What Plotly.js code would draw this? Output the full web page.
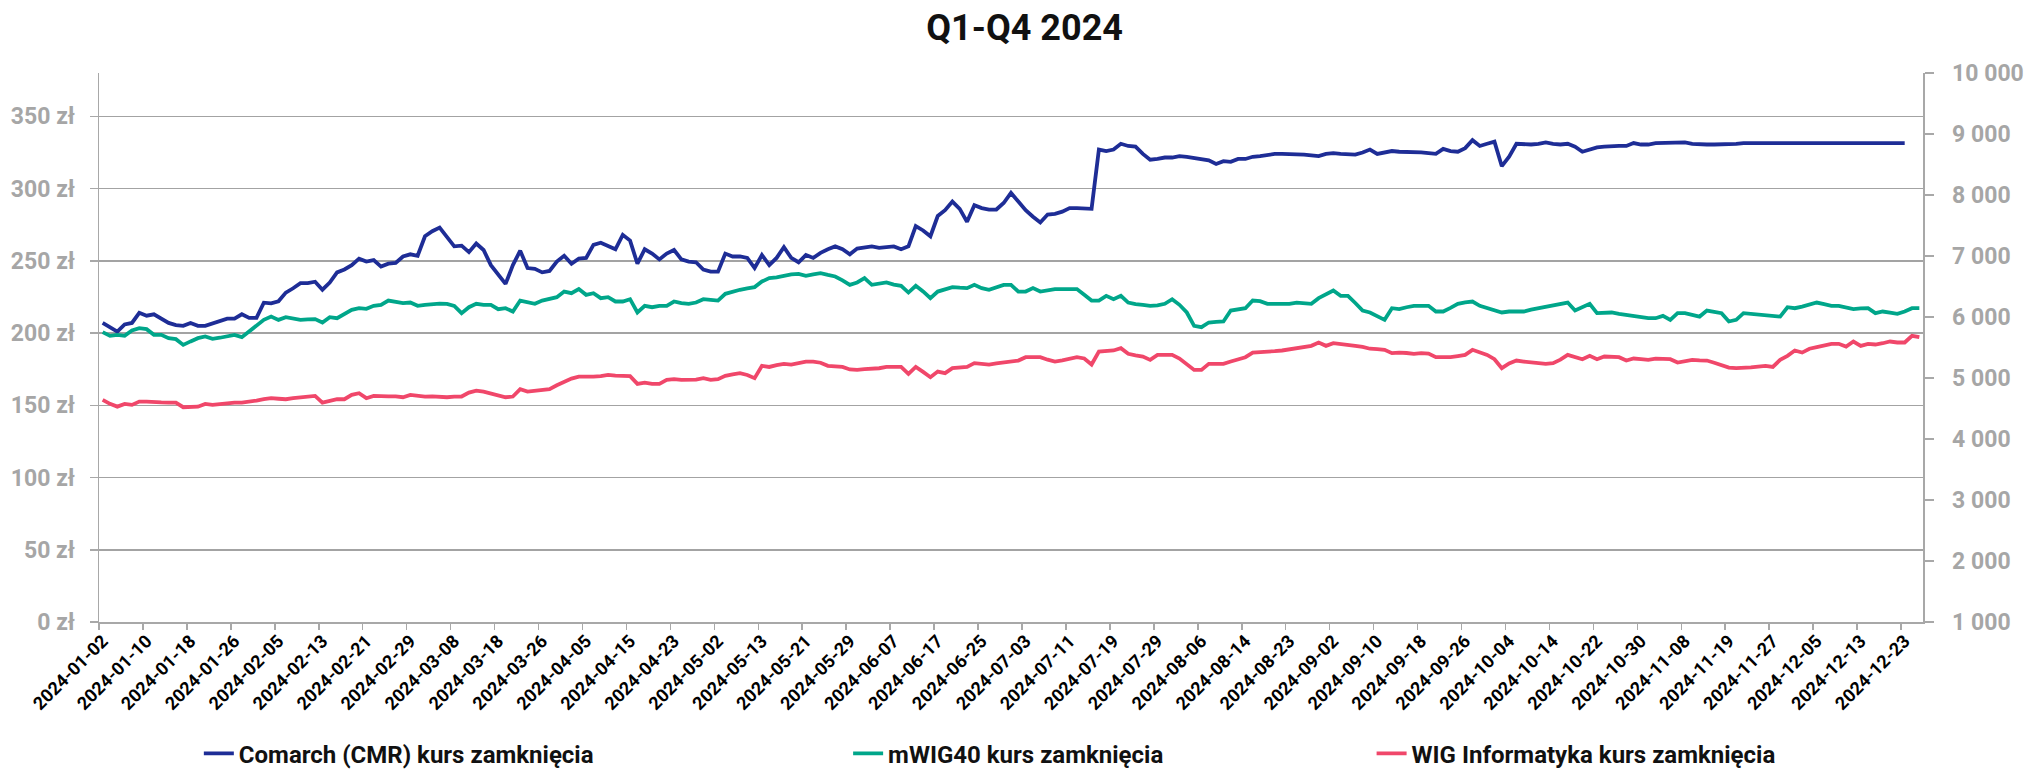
<!DOCTYPE html>
<html>
<head>
<meta charset="utf-8">
<script src="https://cdn.plot.ly/plotly-3.0.1.min.js"></script>
<style>html,body{margin:0;padding:0;background:#fff;}#chart{width:2029px;height:770px;}</style>
</head>
<body>
<div id="chart"></div>
<script>
const dates = [
"2024-01-02","2024-01-03","2024-01-04","2024-01-05","2024-01-08","2024-01-09","2024-01-10","2024-01-11","2024-01-12","2024-01-15","2024-01-16","2024-01-17","2024-01-18","2024-01-19","2024-01-22","2024-01-23","2024-01-24","2024-01-25","2024-01-26","2024-01-29","2024-01-30","2024-01-31",
"2024-02-01","2024-02-02","2024-02-05","2024-02-06","2024-02-07","2024-02-08","2024-02-09","2024-02-12","2024-02-13","2024-02-14","2024-02-15","2024-02-16","2024-02-19","2024-02-20","2024-02-21","2024-02-22","2024-02-23","2024-02-26","2024-02-27","2024-02-28","2024-02-29",
"2024-03-01","2024-03-04","2024-03-05","2024-03-06","2024-03-07","2024-03-08","2024-03-11","2024-03-12","2024-03-13","2024-03-14","2024-03-15","2024-03-18","2024-03-19","2024-03-20","2024-03-21","2024-03-22","2024-03-25","2024-03-26","2024-03-27","2024-03-28",
"2024-04-02","2024-04-03","2024-04-04","2024-04-05","2024-04-08","2024-04-09","2024-04-10","2024-04-11","2024-04-12","2024-04-15","2024-04-16","2024-04-17","2024-04-18","2024-04-19","2024-04-22","2024-04-23","2024-04-24","2024-04-25","2024-04-26","2024-04-29","2024-04-30",
"2024-05-02","2024-05-06","2024-05-07","2024-05-08","2024-05-09","2024-05-10","2024-05-13","2024-05-14","2024-05-15","2024-05-16","2024-05-17","2024-05-20","2024-05-21","2024-05-22","2024-05-23","2024-05-24","2024-05-27","2024-05-28","2024-05-29","2024-05-31",
"2024-06-03","2024-06-04","2024-06-05","2024-06-06","2024-06-07","2024-06-10","2024-06-11","2024-06-12","2024-06-13","2024-06-14","2024-06-17","2024-06-18","2024-06-19","2024-06-20","2024-06-21","2024-06-24","2024-06-25","2024-06-26","2024-06-27","2024-06-28",
"2024-07-01","2024-07-02","2024-07-03","2024-07-04","2024-07-05","2024-07-08","2024-07-09","2024-07-10","2024-07-11","2024-07-12","2024-07-15","2024-07-16","2024-07-17","2024-07-18","2024-07-19","2024-07-22","2024-07-23","2024-07-24","2024-07-25","2024-07-26","2024-07-29","2024-07-30","2024-07-31",
"2024-08-01","2024-08-02","2024-08-05","2024-08-06","2024-08-07","2024-08-08","2024-08-09","2024-08-12","2024-08-13","2024-08-14","2024-08-16","2024-08-19","2024-08-20","2024-08-21","2024-08-22","2024-08-23","2024-08-26","2024-08-27","2024-08-28","2024-08-29","2024-08-30",
"2024-09-02","2024-09-03","2024-09-04","2024-09-05","2024-09-06","2024-09-09","2024-09-10","2024-09-11","2024-09-12","2024-09-13","2024-09-16","2024-09-17","2024-09-18","2024-09-19","2024-09-20","2024-09-23","2024-09-24","2024-09-25","2024-09-26","2024-09-27","2024-09-30",
"2024-10-01","2024-10-02","2024-10-03","2024-10-04","2024-10-07","2024-10-08","2024-10-09","2024-10-10","2024-10-11","2024-10-14","2024-10-15","2024-10-16","2024-10-17","2024-10-18","2024-10-21","2024-10-22","2024-10-23","2024-10-24","2024-10-25","2024-10-28","2024-10-29","2024-10-30","2024-10-31",
"2024-11-04","2024-11-05","2024-11-06","2024-11-07","2024-11-08","2024-11-12","2024-11-13","2024-11-14","2024-11-15","2024-11-18","2024-11-19","2024-11-20","2024-11-21","2024-11-22","2024-11-25","2024-11-26","2024-11-27","2024-11-28","2024-11-29",
"2024-12-02","2024-12-03","2024-12-04","2024-12-05","2024-12-06","2024-12-09","2024-12-10","2024-12-11","2024-12-12","2024-12-13","2024-12-16","2024-12-17","2024-12-18","2024-12-19","2024-12-20","2024-12-23","2024-12-27","2024-12-30"
];

// Comarch (CMR) closing price, zł (left axis)
const comarch = [
207,204,201,206,207,214,212,213,210,207,205.5,205,207,205,205,206.5,208.5,210,210,213,210.5,210.5,
221,220.5,222,228,231,234.5,234.5,235.5,230,235,242,244,247,251.5,249.5,250.5,246,248,248.5,253,254.5,
253.5,267,270.5,273,266,260,260.5,256,262,257.5,247,240,234,247,257,245,244.5,242,243,
249.5,253.5,248,251.5,252,261,262.5,260,258,268,264,248,258,255,251,255,257.5,251,249.5,249,
244,242.5,242.5,255,253,253,252,245,254,247,252,259.5,252,249,254,252,255.5,258,260,258,
254.5,258.5,259,260,259,259.5,260,258,260,274,271,267,281,285,291,286,277,288.5,286.5,285.5,
285.5,290,297,291,285,280.5,276.5,282,282.5,284,286.5,286.5,286.5,286,327,326,327,331,329.5,329,324,320,320.5,
321.5,321.5,322.5,322,321,320,319.5,317,319,318.5,320.5,320.5,322,322.5,323.5,324,324,324,324,323.5,323,
322.5,324,324.5,324,323.5,323.5,325,327,324,325,326,325.5,325.5,325,325,324.5,324,327.5,326,325.5,328,
333.5,329.5,331,332.5,315.5,322,331,330.5,330.5,331,332,331,330.5,331,329,325.5,327,328.5,329,329.5,329.5,329.5,331.5,
330.5,330.5,331.5,331.5,331.5,332,332,331,330.5,330.5,330.5,330.5,330.5,331,331.5,331.5,331.5,331.5,331.5,
331.5,331.5,331.5,331.5,331.5,331.5,331.5,331.5,331.5,331.5,331.5,331.5,331.5,331.5,331.5,331.5,331.5,331.5
];

// mWIG40 closing value (right axis)
const mwig40 = [
5752,5691,5707,5691,5778,5817,5801,5707,5707,5653,5637,5543,5600,5653,5680,5642,5660,5680,5707,5670,5761,5860,
5953,6007,5953,5997,5970,5953,5960,5965,5910,5997,5980,6050,6117,6144,6135,6183,6199,6270,6250,6227,6237,
6183,6200,6216,6220,6216,6183,6063,6160,6216,6199,6199,6128,6144,6090,6270,6240,6216,6270,6290,
6325,6417,6390,6457,6363,6390,6309,6325,6254,6254,6292,6074,6183,6160,6183,6183,6254,6227,6216,6237,6292,
6280,6270,6380,6420,6446,6470,6490,6582,6637,6650,6675,6700,6708,6675,6700,6719,6690,6664,6600,6527,
6566,6637,6527,6550,6566,6530,6511,6401,6511,6420,6309,6417,6450,6490,6480,6473,6527,6473,6446,6480,
6527,6527,6417,6417,6473,6417,6440,6457,6457,6450,6457,6363,6270,6270,6347,6292,6347,6237,6210,6199,6183,6190,6216,
6292,6200,6074,5855,5834,5910,5920,5926,6106,6130,6144,6270,6260,6216,6216,6216,6216,6237,6230,6216,6309,
6380,6434,6347,6347,6230,6106,6074,6010,5953,6144,6128,6160,6183,6183,6183,6090,6090,6150,6216,6240,6254,
6183,6150,6117,6074,6090,6090,6090,6120,6144,6170,6183,6220,6237,6106,6160,6216,6063,6070,6074,6050,6035,6019,5990,
5980,5980,6019,5953,6063,6063,6035,6007,6106,6080,6063,5926,5953,6063,6050,6035,6030,6019,6007,
6160,6144,6170,6199,6237,6210,6183,6183,6150,6128,6140,6144,6063,6090,6070,6052,6090,6144,6144
];

// WIG Informatyka closing value (right axis)
const wigInfo = [
4641,4576,4531,4576,4559,4613,4613,4613,4600,4597,4597,4521,4521,4530,4576,4559,4570,4586,4597,4597,4610,4630,
4652,4669,4660,4652,4669,4680,4696,4707,4597,4630,4652,4652,4723,4751,4669,4707,4696,4700,4700,4685,4723,
4710,4696,4700,4690,4685,4696,4696,4761,4794,4778,4750,4723,4685,4696,4816,4778,4790,4805,4816,
4880,4942,4990,5023,5018,5023,5030,5051,5040,5030,5030,4904,4925,4904,4904,4969,4981,4969,4969,4975,4997,
4969,4980,5035,5060,5079,5050,4997,5199,5181,5210,5232,5221,5240,5270,5270,5250,5199,5190,5181,5140,
5133,5145,5145,5160,5181,5181,5181,5067,5181,5100,5013,5105,5079,5161,5170,5181,5243,5230,5221,5240,
5254,5270,5286,5341,5341,5341,5300,5270,5290,5308,5341,5320,5221,5434,5445,5451,5489,5396,5370,5352,5297,5379,5379,
5379,5319,5232,5133,5133,5232,5232,5232,5270,5310,5341,5417,5420,5434,5440,5451,5470,5489,5505,5527,5582,
5527,5571,5560,5549,5527,5510,5480,5473,5462,5407,5417,5410,5396,5407,5400,5341,5341,5341,5360,5379,5462,
5420,5379,5308,5161,5240,5286,5270,5254,5240,5232,5243,5300,5379,5340,5308,5363,5308,5352,5345,5341,5286,5319,5310,
5297,5319,5315,5308,5254,5280,5297,5290,5286,5250,5215,5170,5161,5161,5175,5188,5199,5181,5297,
5363,5451,5417,5480,5505,5530,5560,5560,5516,5598,5527,5560,5549,5570,5598,5582,5582,5691,5669
];

const seriesNames = ["Comarch (CMR) kurs zamknięcia", "mWIG40 kurs zamknięcia", "WIG Informatyka kurs zamknięcia"];
const seriesColors = ["#1e2d96", "#00a68a", "#f0476a"];
const titleText = "Q1-Q4 2024";

const FONT = "Roboto, 'Open Sans', sans-serif";
const GRID = "#a3a3a3";
const AXIS = "#a8a8a8";
const LABEL = "#a6a6a6";

const traces = [
  {x: dates, y: comarch, name: seriesNames[0], type: "scatter", mode: "lines",
   line: {color: seriesColors[0], width: 3.8}, yaxis: "y", legend: "legend"},
  {x: dates, y: mwig40, name: seriesNames[1], type: "scatter", mode: "lines",
   line: {color: seriesColors[1], width: 3.8}, yaxis: "y2", legend: "legend2"},
  {x: dates, y: wigInfo, name: seriesNames[2], type: "scatter", mode: "lines",
   line: {color: seriesColors[2], width: 3.8}, yaxis: "y2", legend: "legend3"}
];

const legendBase = {
  orientation: "h", yanchor: "middle", xanchor: "left", yref: "container", y: 0.021,
  xref: "container",
  font: {family: FONT, size: 24, color: "#111", weight: 700},
  bgcolor: "rgba(0,0,0,0)", borderwidth: 0
};

const layout = {
  width: 2029, height: 770,
  paper_bgcolor: "#fff", plot_bgcolor: "#fff",
  margin: {l: 99, r: 106, t: 73, b: 148, pad: 0, autoexpand: false},
  separators: ", ",
  showlegend: true,
  title: {text: titleText, x: 0.505, xref: "container", y: 0.964, yref: "container",
          xanchor: "center", yanchor: "middle",
          font: {family: FONT, size: 36, color: "#111", weight: 700}},
  xaxis: {
    type: "category", range: [-0.5, dates.length - 0.5], automargin: false,
    tickmode: "linear", tick0: 0, dtick: 6, tickson: "boundaries",
    tickangle: -45, ticks: "outside", ticklen: 6, tickcolor: AXIS, tickwidth: 1.5,
    showline: true, linecolor: AXIS, linewidth: 1.5, showgrid: false, zeroline: false,
    tickfont: {family: FONT, size: 18, color: "#000", weight: 700}
  },
  yaxis: {
    range: [0, 380], tickmode: "linear", tick0: 0, dtick: 50, ticksuffix: " zł", automargin: false,
    showgrid: true, gridcolor: GRID, gridwidth: 1.5, zeroline: false,
    showline: true, linecolor: AXIS, linewidth: 1.5,
    ticks: "outside", ticklen: 8, tickcolor: AXIS, tickwidth: 1.5, ticklabelstandoff: 10,
    tickfont: {family: FONT, size: 23, color: LABEL, weight: 700}
  },
  yaxis2: {
    overlaying: "y", side: "right", range: [1000, 10000], tickmode: "linear", tick0: 1000, dtick: 1000,
    separatethousands: true, tickformat: ",d", automargin: false,
    showgrid: false, zeroline: false, showline: true, linecolor: AXIS, linewidth: 1.5,
    ticks: "outside", ticklen: 9, tickcolor: AXIS, tickwidth: 1.5, ticklabelstandoff: 14,
    tickfont: {family: FONT, size: 23, color: LABEL, weight: 700}
  },
  legend: Object.assign({}, legendBase, {x: 0.098}),
  legend2: Object.assign({}, legendBase, {x: 0.418}),
  legend3: Object.assign({}, legendBase, {x: 0.676})
};

Plotly.newPlot("chart", traces, layout, {staticPlot: true, displayModeBar: false});
</script>
</body>
</html>
